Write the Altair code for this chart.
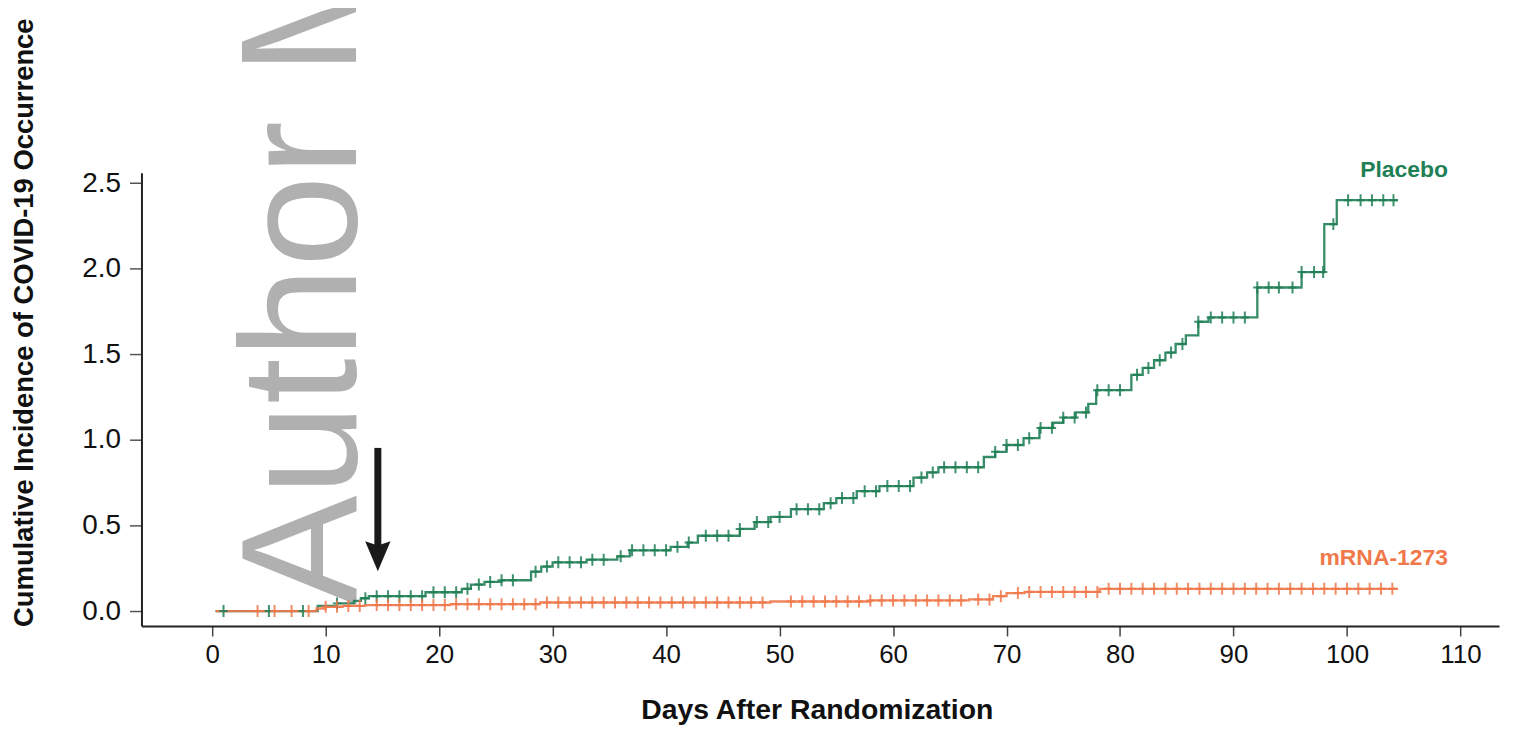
import altair as alt
import pandas as pd

# ---------------- data ----------------
placebo_step_days = [0.3, 9.3, 11.0, 12.5, 13.1, 13.8, 18.8, 22.0, 22.8, 24.0, 25.5, 28.1, 29.0, 30.0,
                     33.0, 35.7, 36.8, 40.4, 41.9, 42.8, 46.5, 47.8, 49.2, 51.0, 53.9, 55.0, 56.8,
                     58.8, 61.8, 63.0, 64.0, 68.0, 69.0, 70.0, 71.5, 72.9, 74.1, 75.0, 76.1, 77.2,
                     77.9, 81.0, 82.0, 83.0, 84.0, 84.9, 85.8, 86.9, 87.8, 92.1, 96.0, 98.0, 99.1, 104.5]
placebo_step_vals = [0.0, 0.03, 0.045, 0.06, 0.075, 0.087, 0.11, 0.13, 0.155, 0.17, 0.18, 0.23, 0.26, 0.285,
                     0.30, 0.32, 0.355, 0.375, 0.40, 0.44, 0.48, 0.52, 0.55, 0.595, 0.63, 0.66, 0.70,
                     0.73, 0.78, 0.81, 0.84, 0.90, 0.93, 0.97, 1.01, 1.07, 1.10, 1.13, 1.16, 1.21,
                     1.29, 1.38, 1.42, 1.465, 1.51, 1.56, 1.61, 1.69, 1.715, 1.89, 1.98, 2.26, 2.40, 2.40]

mrna_step_days = [0.3, 9.2, 10.0, 11.5, 13.5, 21.0, 28.9, 49.2, 58.0, 66.7, 68.8, 70.0, 71.6, 78.2, 104.5]
mrna_step_vals = [0.0, 0.015, 0.025, 0.03, 0.035, 0.04, 0.05, 0.056, 0.062, 0.068, 0.087, 0.105, 0.112, 0.13, 0.13]

placebo_censor_days = [1, 5, 8, 11, 13.5, 14.5, 15.5, 16.5, 17.5, 18.5, 19.5, 20.5, 21.5, 22.5, 23.5,
                       24.5, 25.5, 26.5, 28.5, 29.5, 30.5, 31.5, 32.5, 33.5, 34.5, 36, 37, 38, 39, 40,
                       41, 42, 43.5, 44.5, 45.5, 46.5, 48, 49, 50, 51.5, 52.5, 53.5, 54.5, 55.5, 56.5,
                       57.5, 58.5, 59.5, 60.5, 61.5, 62.5, 63.5, 64.5, 65.5, 66.5, 67.5, 69, 70, 71,
                       72, 73, 74, 75, 76, 77, 78, 79, 80, 81.5, 82.5, 83.5, 84.5, 85.5, 86.9, 88, 89,
                       90, 91, 92.1, 93.1, 94, 95.2, 96, 97.1, 97.9, 98.8, 100.1, 101.2, 102.2, 103.2, 104.1]
mrna_censor_days = [4, 5.5, 7, 8.5, 10, 11, 12, 13, 14.5, 15.5, 16.5, 17.5, 18.5, 19.5, 20.5, 21.5, 22.5,
                    23.5, 24.5, 25.5, 26.5, 27.5, 28.5, 29.5, 30.5, 31.5, 32.5, 33.5, 34.5, 35.5, 36.5,
                    37.5, 38.5, 39.5, 40.5, 41.5, 42.5, 43.5, 44.5, 45.5, 46.5, 47.5, 48.5, 51, 52, 53,
                    54, 55, 56, 57, 58, 59, 60, 61, 62, 63, 64, 65, 66, 67.5, 68.5, 69.5, 71, 72, 73,
                    74, 75, 76, 77, 78, 79, 80, 81, 82, 83, 84, 85, 86, 87, 88, 89, 90, 91, 92, 93, 94,
                    95, 96, 97, 98, 99, 100, 101, 102, 103, 104]

groups = ["Placebo", "mRNA-1273"]
group_colors = ["#1f7f55", "#f0784a"]
x_ticks = [0, 10, 20, 30, 40, 50, 60, 70, 80, 90, 100, 110]
y_ticks = [0.0, 0.5, 1.0, 1.5, 2.0, 2.5]

# ---------------- tables ----------------
def steps(days, vals, name):
    return pd.DataFrame({"day": days, "value": vals, "group": name})

def censors(cdays, sdays, svals, name):
    out = []
    for d in cdays:
        v = svals[0]
        for sd, sv in zip(sdays, svals):
            if sd <= d:
                v = sv
        out.append(v)
    return pd.DataFrame({"day": cdays, "value": out, "group": name})

lines_df = pd.concat([steps(placebo_step_days, placebo_step_vals, groups[0]),
                      steps(mrna_step_days, mrna_step_vals, groups[1])])
cens_df = pd.concat([censors(placebo_censor_days, placebo_step_days, placebo_step_vals, groups[0]),
                     censors(mrna_censor_days, mrna_step_days, mrna_step_vals, groups[1])])

FONT = "Liberation Sans"
xscale = alt.Scale(domain=[-6.23, 113.4], nice=False, zero=False)
yscale = alt.Scale(domain=[-0.087, 2.56], nice=False, zero=False)
xaxis = alt.Axis(values=x_ticks, title="Days After Randomization", grid=False,
                 labelFontSize=26, labelFont=FONT, labelColor="#111", labelPadding=6,
                 tickSize=10, tickColor="#444", tickWidth=1.5, domainColor="#222", domainWidth=2,
                 titleFont=FONT, titleFontSize=28.5, titleFontWeight="bold", titleColor="#111",
                 titleX=678, titleY=84, titleBaseline="middle", titleAnchor="start", titleAlign="center")
yaxis = alt.Axis(values=y_ticks, format=".1f", title="Cumulative Incidence of COVID-19 Occurrence",
                 grid=False, labelFontSize=28, labelFont=FONT, labelColor="#111", labelPadding=9,
                 tickSize=12, tickColor="#555", tickWidth=1.5, domainColor="#222", domainWidth=2,
                 titleFont=FONT, titleFontSize=27.5, titleFontWeight="bold", titleColor="#111",
                 titleX=-117, titleY=150, titleBaseline="middle", titleAngle=270, titleAlign="center",
                 titleAnchor="start")

X = alt.X("day:Q", scale=xscale, axis=xaxis)
Y = alt.Y("value:Q", scale=yscale, axis=yaxis)
color = alt.Color("group:N", scale=alt.Scale(domain=groups, range=group_colors), legend=None)

watermark = alt.Chart(pd.DataFrame({"day": [12.7], "value": [0.035], "t": ["Author Manuscript"]})).mark_text(
    font=FONT, fontSize=165, angle=270, align="left", baseline="alphabetic", color="#b0b0b0"
).encode(x=X, y=Y, text="t:N")

line = alt.Chart(lines_df).mark_line(interpolate="step-after", strokeWidth=2.3, opacity=0.9).encode(
    x=X, y=Y, color=color, detail="group:N")

cens = alt.Chart(cens_df).mark_point(shape="M0,-1L0,1M-0.7,0L0.7,0", size=144, filled=False,
                                     strokeWidth=2, opacity=0.85).encode(x=X, y=Y, color=color)

arrow_shaft = alt.Chart(pd.DataFrame({"day": [14.6], "value": [0.953], "value2": [0.37]})).mark_rule(
    strokeWidth=7, color="#1a1a1a").encode(x=X, y=Y, y2="value2:Q")
arrow_head = alt.Chart(pd.DataFrame({"day": [14.6], "value": [0.32]})).mark_point(
    shape="M-0.85,-1L0,-0.72L0.85,-1L0,1Z", size=900, filled=True, color="#1a1a1a", opacity=1
).encode(x=X, y=Y)

labels_df = pd.DataFrame({"day": [108.9, 108.9], "value": [2.535, 0.272], "group": groups})
labels = alt.Chart(labels_df).mark_text(font=FONT, fontSize=23, fontWeight="bold", align="right",
                                        baseline="alphabetic").encode(x=X, y=Y, text="group:N", color=color)

chart = alt.layer(watermark, line, cens, arrow_shaft, arrow_head, labels).properties(
    width=1363, height=455,
    autosize=alt.AutoSizeParams(type="none"),
    padding={"left": 134, "top": 164, "right": 10, "bottom": 102},
).configure(background="white").configure_view(stroke=None, strokeWidth=0)

chart.save("out.html", embed_options={"renderer": "svg", "actions": False})
